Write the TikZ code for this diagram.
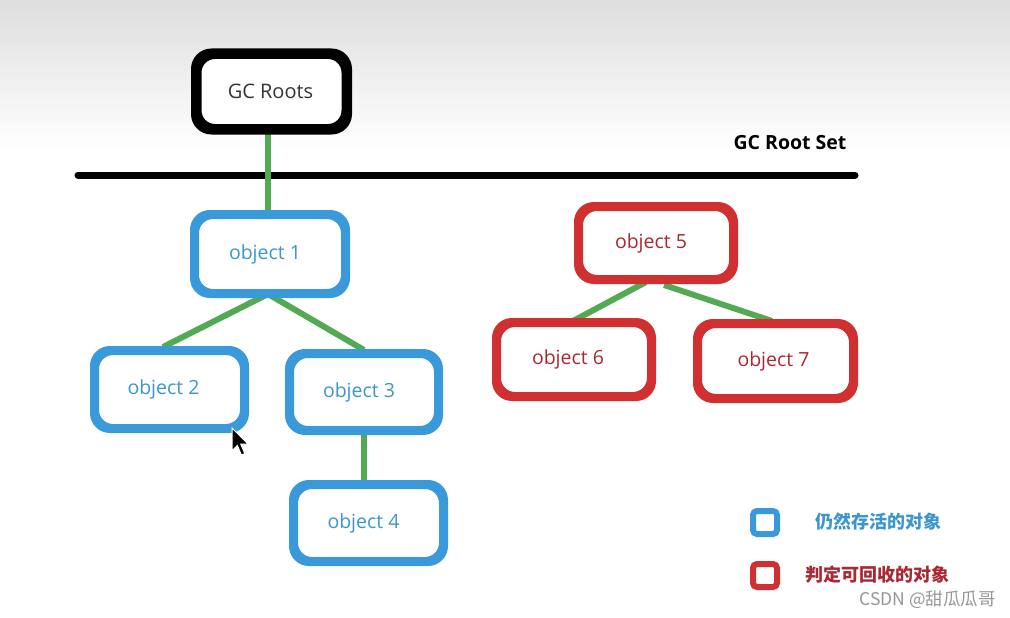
\documentclass[tikz,border=0pt]{standalone}
\usepackage{fontspec}
\setmainfont{Open Sans}
\newfontfamily\cjk{Noto Sans CJK SC}
\definecolor{objblue}{RGB}{58,154,217}
\definecolor{txtblue}{RGB}{60,150,205}
\definecolor{objred}{RGB}{208,48,48}
\definecolor{txtred}{RGB}{170,40,50}
\definecolor{linkgreen}{RGB}{84,170,84}
\definecolor{wmgray}{RGB}{150,150,150}
\newcommand{\lft}[1]{#1\hspace*{10pt}}
\tikzset{
  box/.style={draw, rounded corners=17pt, line width=6pt, fill=white, inner sep=0pt,
              font=\fontsize{19.5}{21}\selectfont},
  rootbox/.style={box, draw=black, line width=7pt, text=black!80, font=\fontsize{20}{22}\selectfont},
  livebox/.style={box, draw=objblue, text=txtblue},
  deadbox/.style={box, draw=objred, text=txtred},
  link/.style={draw=linkgreen, line width=6pt},
  legendbox/.style={draw, rounded corners=4pt, line width=6pt, minimum width=24pt, minimum height=23pt, inner sep=0pt}
}
\begin{document}
\begin{tikzpicture}[x=1pt,y=-1pt]
\useasboundingbox (0,0) rectangle (1010,618);
\shade[top color=black!13, bottom color=white] (0,0) rectangle (1010,150);
% root
\node[rootbox, minimum width=147pt, minimum height=72pt] (gc) at (271.5,91.5) {\raisebox{-1pt}{GC Roots}\hspace*{2pt}};
\coordinate (lineL) at (78,175);
\coordinate (lineR) at (855,175);
\draw[line width=7pt, line cap=round] (lineL) -- (lineR);
\node[font=\bfseries\fontsize{19.5}{21}\selectfont, inner sep=0pt] (setlbl) at (790,143) {GC Root Set};
% live objects
\node[livebox, minimum width=148pt, minimum height=76pt] (o1) at (270,254) {\lft{object 1}};
\node[livebox, minimum width=147pt, minimum height=75pt] (o2) at (169.5,389.5) {\lft{\hspace*{-2pt}object 2}};
\node[livebox, minimum width=146pt, minimum height=74pt] (o3) at (364,392) {\lft{object 3}};
\node[livebox, minimum width=147pt, minimum height=74pt] (o4) at (368.5,523) {\lft{object 4}};
% dead objects
\node[deadbox, minimum width=152pt, minimum height=70pt] (o5) at (656,243) {\lft{object 5}};
\node[deadbox, minimum width=152pt, minimum height=71pt] (o6) at (574,359.5) {\lft{\hspace*{-2pt}object 6}};
\node[deadbox, minimum width=153pt, minimum height=72pt] (o7) at (775.5,361) {object 7\hspace*{4pt}};
% links
\draw[link] (gc.south -| 268,0) -- (o1.north -| 268,0);
\draw[link] (268,294) -- (163,347);
\draw[link] (268,294) -- (364,350);
\draw[link] (o3.south -| 364,0) -- (o4.north -| 364,0);
\draw[link] (646,282) -- (573,321);
\draw[link] (664,285) -- (772,321);
% redraw borders over links
\foreach \n in {o1,o2,o3,o4}{\draw[objblue, line width=6pt, rounded corners=17pt] (\n.south west) rectangle (\n.north east);}
\foreach \n in {o5,o6,o7}{\draw[objred, line width=6pt, rounded corners=17pt] (\n.south west) rectangle (\n.north east);}
\draw[black, line width=7pt, rounded corners=17pt] (gc.south west) rectangle (gc.north east);
% legend
\node[legendbox, draw=objblue] (lg1) at (765,522.5) {};
\node[font=\cjk\bfseries\fontsize{18}{20}\selectfont, text=txtblue, anchor=west, inner sep=0pt] (lt1) at (815,522) {仍然存活的对象};
\node[legendbox, draw=objred] (lg2) at (765,575.5) {};
\node[font=\cjk\bfseries\fontsize{18}{20}\selectfont, text=txtred, anchor=west, inner sep=0pt] (lt2) at (805,575) {判定可回收的对象};
% watermark
\node[font=\cjk\fontsize{17.5}{19}\selectfont, text=wmgray, anchor=east, inner sep=0pt] (wm) at (996,600) {CSDN @甜瓜瓜哥};
% mouse cursor
\coordinate (cur) at (232,428);
\filldraw[fill=black, draw=white, line width=1pt, shift={(cur)}, scale=1.35]
  (0,0) -- (0,17) -- (4,13) -- (7,20) -- (9.5,19) -- (6.5,12) -- (12,12) -- cycle;
\end{tikzpicture}
\end{document}
